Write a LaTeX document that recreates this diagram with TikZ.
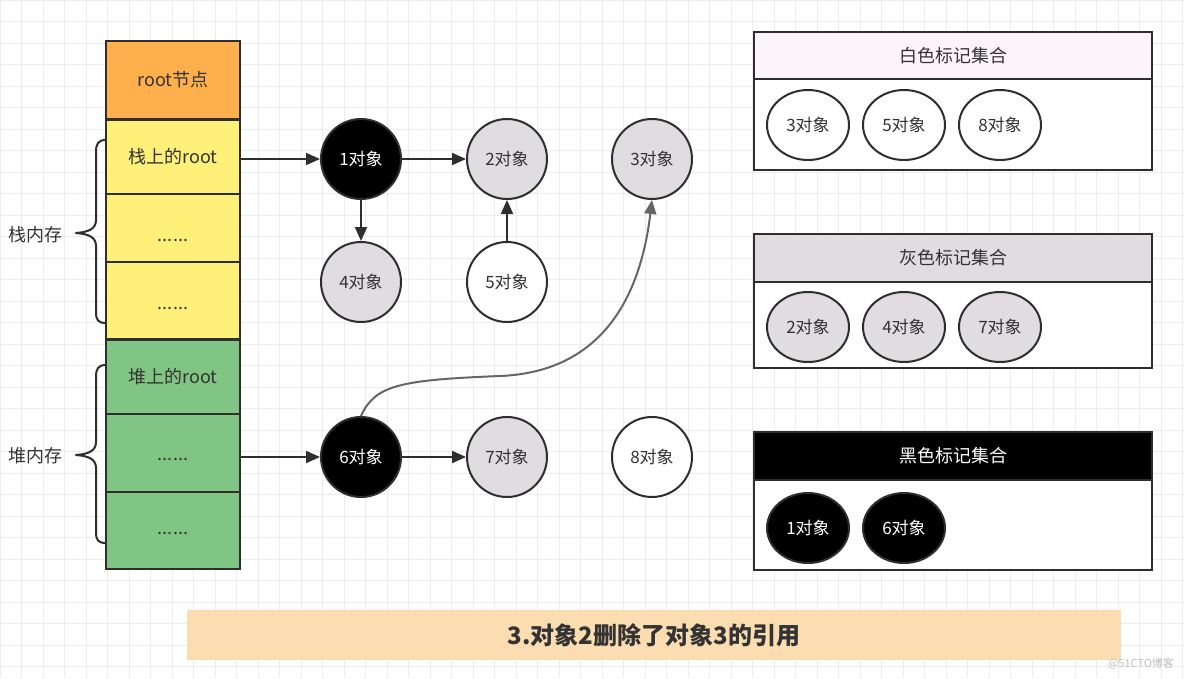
\documentclass[tikz,border=0pt]{standalone}
\usepackage{fontspec}
\setmainfont{Noto Sans CJK SC}
\usetikzlibrary{arrows.meta,shapes.geometric}
\definecolor{cOrange}{HTML}{FFB04C}
\definecolor{cYellow}{HTML}{FFF07A}
\definecolor{cGreen}{HTML}{80C583}
\definecolor{cGray}{HTML}{E0DCE0}
\definecolor{cPink}{HTML}{FCF4FA}
\definecolor{cBanner}{HTML}{FBDDB1}
\definecolor{cLine}{HTML}{2E2E2E}
\definecolor{cText}{HTML}{333333}
\definecolor{cCurve}{HTML}{666666}
\definecolor{cGrid}{HTML}{ECECEC}
\newcommand{\lowdots}[1]{\raisebox{-#1pt}[0pt][0pt]{......}}
\begin{document}
\begin{tikzpicture}[x=1pt,y=-1pt,
  cell/.style={draw=cLine,line width=2pt,minimum width=134pt,inner sep=0pt,outer sep=0pt,
    font=\fontsize{18}{20}\selectfont,text=cText},
  obj/.style={circle,draw=cLine,line width=2pt,minimum size=80pt,inner sep=0pt,
    font=\fontsize{17}{19}\selectfont,text=cText},
  blackobj/.style={obj,fill=black,text=white},
  grayobj/.style={obj,fill=cGray},
  whiteobj/.style={obj,fill=white},
  setobj/.style={ellipse,draw=cLine,line width=2pt,minimum width=82pt,minimum height=70pt,inner sep=0pt,
    font=\fontsize{17}{19}\selectfont,text=cText},
  sethead/.style={draw=cLine,line width=2pt,minimum width=398pt,inner sep=0pt,outer sep=0pt,
    font=\fontsize{18}{20}\selectfont,text=cText},
  setbody/.style={draw=cLine,line width=2pt,minimum width=398pt,inner sep=0pt,outer sep=0pt,fill=white},
  arr/.style={draw=cLine,line width=2pt,-{Triangle[length=14pt,width=12pt]}},
  brace/.style={draw=cLine,line width=2pt,line cap=round,line join=round},
  lbl/.style={font=\fontsize{18}{20}\selectfont,text=cText}
]
\useasboundingbox (0,0) rectangle (1184,678);
\fill[white] (0,0) rectangle (1184,678);
\draw[cGrid,line width=0.8pt,step=21.5pt] (0,0) grid (1184,678);

% stack / heap column
\node[cell,fill=cOrange,minimum height=78pt] (root) at (173,80) {root节点};
\node[cell,fill=cYellow,minimum height=75pt] (s1) at (173,157) {栈上的root};
\node[cell,fill=cYellow,minimum height=68pt] (s2) at (173,228) {\lowdots{13}};
\node[cell,fill=cYellow,minimum height=77pt] (s3) at (173,300.5) {\lowdots{8.5}};
\node[cell,fill=cGreen,minimum height=75pt] (h1) at (173,377) {堆上的root};
\node[cell,fill=cGreen,minimum height=78pt] (h2) at (173,453) {\lowdots{7}};
\node[cell,fill=cGreen,minimum height=77pt] (h3) at (173,530.5) {\lowdots{4}};

% braces
\draw[brace] (106,140) .. controls (98,140) and (96,144) .. (96,152) -- (96,220)
  .. controls (96,228) and (90,232) .. (76,233)
  .. controls (90,234) and (96,238) .. (96,246) -- (96,312)
  .. controls (96,320) and (98,323) .. (106,323);
\draw[brace] (106,365) .. controls (98,365) and (96,369) .. (96,377) -- (96,442)
  .. controls (96,450) and (90,454) .. (76,455)
  .. controls (90,456) and (96,460) .. (96,468) -- (96,532)
  .. controls (96,540) and (98,543) .. (106,543);
\node[lbl] (stacklbl) at (36,235) {栈内存};
\node[lbl] (heaplbl) at (36,456) {堆内存};

% objects
\node[blackobj] (c1) at (361,159) {1对象};
\node[grayobj]  (c2) at (507,159) {2对象};
\node[grayobj]  (c3) at (652,159) {3对象};
\node[grayobj]  (c4) at (361,282) {4对象};
\node[whiteobj] (c5) at (507,282) {5对象};
\node[blackobj] (c6) at (361,457) {6对象};
\node[grayobj]  (c7) at (507,457) {7对象};
\node[whiteobj] (c8) at (652,457) {8对象};

% connectors
\draw[arr] (c1 -| s1.east) -- (c1.west);
\draw[arr] (c1) -- (c2);
\draw[arr] (c1) -- (c4);
\draw[arr] (c5) -- (c2);
\draw[arr] (c6 -| h2.east) -- (c6.west);
\draw[arr] (c6) -- (c7);
\draw[draw=cCurve,line width=2pt,-{Triangle[length=14pt,width=12pt]}]
  (c6.north) .. controls (375,385) and (400,380) .. (500,376)
  .. controls (600,372) and (640,300) .. (c3.south);

% white set
\node[sethead,fill=cPink,minimum height=47pt] (wh) at (953,55.5) {白色标记集合};
\node[setbody,minimum height=91pt] (wb) at (953,124.5) {};
\node[setobj,fill=white] (w3) at (808,125) {3对象};
\node[setobj,fill=white] (w5) at (904,125) {5对象};
\node[setobj,fill=white] (w8) at (1000,125) {8对象};

% gray set
\node[sethead,fill=cGray,minimum height=48pt] (gh) at (953,258) {灰色标记集合};
\node[setbody,minimum height=86pt] (gb) at (953,325) {};
\node[setobj,fill=cGray] (g2) at (808,327) {2对象};
\node[setobj,fill=cGray] (g4) at (904,327) {4对象};
\node[setobj,fill=cGray] (g7) at (1000,327) {7对象};

% black set
\node[sethead,fill=black,text=white,minimum height=48pt] (bh) at (953,456) {黑色标记集合};
\node[setbody,minimum height=90pt] (bb) at (953,525) {};
\node[setobj,fill=black,text=white] (b1) at (808,528) {1对象};
\node[setobj,fill=black,text=white] (b6) at (904,528) {6对象};

% banner
\node[fill=cBanner,minimum width=934pt,minimum height=50pt,inner sep=0pt,
  font=\fontsize{24}{26}\selectfont\bfseries,text=cText] (banner) at (654,635) {3.对象2删除了对象3的引用};
\node[font=\fontsize{11}{12}\selectfont,text=black!25] (wm) at (1141,664) {@51CTO博客};
\end{tikzpicture}
\end{document}
